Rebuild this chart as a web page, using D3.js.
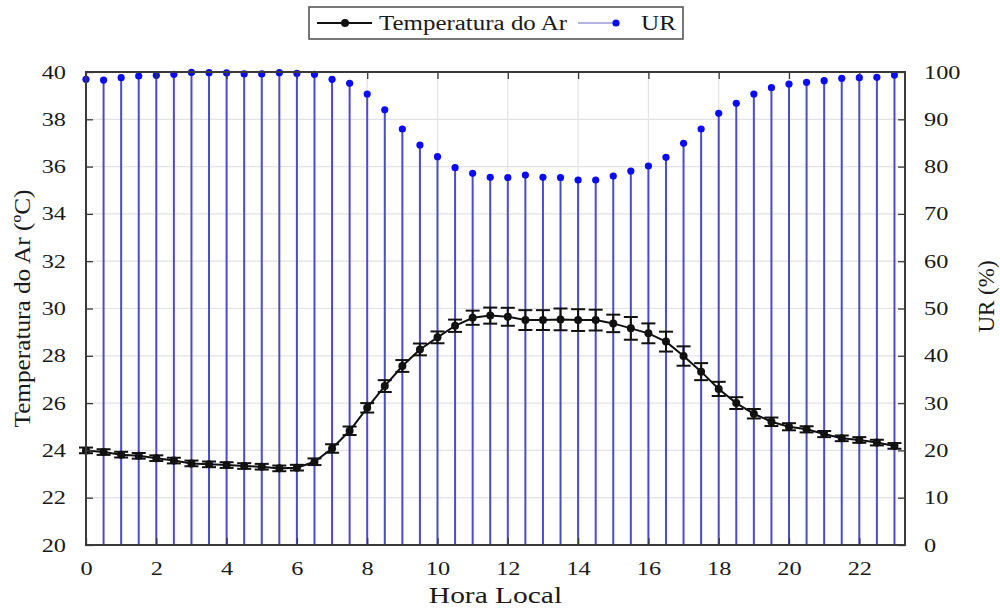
<!DOCTYPE html>
<html>
<head>
<meta charset="utf-8">
<script src="https://cdn.jsdelivr.net/npm/d3@7"></script>
<style>
  body { margin: 0; background: #fff; }
  svg { display: block; }
  text { font-family: "Liberation Serif", "Times New Roman", serif; fill: #1a1a1a; }
</style>
</head>
<body>
<svg id="chart" width="1000" height="610"></svg>
<script>
// Half-hourly local time (h)
const hours = [0,0.5,1,1.5,2,2.5,3,3.5,4,4.5,5,5.5,6,6.5,7,7.5,8,8.5,9,9.5,10,10.5,11,11.5,
  12,12.5,13,13.5,14,14.5,15,15.5,16,16.5,17,17.5,18,18.5,19,19.5,20,20.5,21,21.5,22,22.5,23];
// Mean air temperature (°C)
const temperature = [24.0,23.93,23.82,23.77,23.67,23.57,23.45,23.41,23.38,23.34,23.31,23.24,23.27,23.52,
  24.08,24.83,25.8,26.72,27.57,28.27,28.78,29.27,29.61,29.70,29.65,29.51,29.51,29.54,29.51,29.51,
  29.37,29.16,28.95,28.6,27.99,27.33,26.6,26.0,25.55,25.21,25.0,24.89,24.69,24.51,24.44,24.33,24.19];
// Error bar half-length (°C)
const tempError = [0.12,0.12,0.12,0.12,0.12,0.12,0.12,0.12,0.12,0.12,0.12,0.12,0.12,0.14,
  0.18,0.18,0.2,0.25,0.25,0.25,0.25,0.26,0.3,0.34,0.38,0.42,0.42,0.46,0.46,0.44,
  0.37,0.48,0.42,0.42,0.41,0.36,0.3,0.25,0.2,0.18,0.15,0.13,0.13,0.12,0.12,0.12,0.12];
// Relative humidity (%)
const humidity = [98.45,98.3,98.8,99.15,99.3,99.5,99.9,99.85,99.8,99.6,99.6,99.85,99.7,99.5,
  98.45,97.6,95.35,92.0,87.95,84.57,82.1,79.77,78.58,77.74,77.7,78.2,77.74,77.7,77.17,77.17,
  78.0,79.07,80.13,81.96,84.92,87.95,91.26,93.38,95.35,96.68,97.46,97.82,98.17,98.66,98.8,98.87,99.36];

const xTicks = [0,2,4,6,8,10,12,14,16,18,20,22];
const tempTicks = [20,22,24,26,28,30,32,34,36,38,40];
const humTicks = [0,10,20,30,40,50,60,70,80,90,100];

const svg = d3.select("#chart");
const plotL = 86, plotR = 905, plotT = 72, plotB = 545;

const x = d3.scaleLinear().domain([0, 23.3]).range([plotL, plotR]);
const yT = d3.scaleLinear().domain([20, 40]).range([plotB, plotT]);
const yH = d3.scaleLinear().domain([0, 100]).range([plotB, plotT]);

// stretch glyphs horizontally for the wide lettering
function widen(sel, f) {
  sel.each(function() {
    const w = this.getComputedTextLength();
    d3.select(this).attr("textLength", w * f).attr("lengthAdjust", "spacingAndGlyphs");
  });
}

// grid
const grid = svg.append("g").attr("stroke", "#e3e3e3").attr("stroke-width", 1.2);
grid.selectAll("line.h").data(tempTicks.slice(1, -1)).join("line").attr("class", "h")
  .attr("x1", plotL).attr("x2", plotR).attr("y1", d => yT(d)).attr("y2", d => yT(d));
grid.selectAll("line.v").data(xTicks.slice(1)).join("line").attr("class", "v")
  .attr("y1", plotT).attr("y2", plotB).attr("x1", d => x(d)).attr("x2", d => x(d));

// humidity stems
svg.append("g").selectAll("line").data(hours).join("line")
  .attr("x1", d => x(d)).attr("x2", d => x(d))
  .attr("y1", yH(0)).attr("y2", (d, i) => yH(humidity[i]))
  .attr("stroke", "#4b4bcc").attr("stroke-width", 2);
svg.append("g").selectAll("circle").data(hours).join("circle")
  .attr("cx", d => x(d)).attr("cy", (d, i) => yH(humidity[i]))
  .attr("r", 3.6).attr("fill", "#0a0aff");

// temperature line
const line = d3.line().x(d => x(d)).y((d, i) => yT(temperature[i]));
svg.append("path").datum(hours).attr("d", line)
  .attr("fill", "none").attr("stroke", "#111").attr("stroke-width", 2);

// error bars
const eb = svg.append("g").attr("stroke", "#111").attr("stroke-width", 2);
const cap = 7;
hours.forEach((h, i) => {
  const cx = x(h), lo = yT(temperature[i] - tempError[i]), hi = yT(temperature[i] + tempError[i]);
  eb.append("line").attr("x1", cx).attr("x2", cx).attr("y1", lo).attr("y2", hi);
  eb.append("line").attr("x1", cx - cap).attr("x2", cx + cap).attr("y1", lo).attr("y2", lo);
  eb.append("line").attr("x1", cx - cap).attr("x2", cx + cap).attr("y1", hi).attr("y2", hi);
});
svg.append("g").selectAll("circle").data(hours).join("circle")
  .attr("cx", d => x(d)).attr("cy", (d, i) => yT(temperature[i]))
  .attr("r", 4).attr("fill", "#111");

// axes (ticks pointing inward)
const axisColor = "#3a3a3a";
function styleAxis(g) {
  g.select(".domain").remove();
  g.selectAll(".tick line").attr("stroke", axisColor).attr("stroke-width", 1.3);
  g.selectAll(".tick text").attr("font-size", 19).attr("fill", "#1a1a1a")
    .attr("font-family", '"Liberation Serif", serif');
}
const gx = svg.append("g").attr("transform", `translate(0,${plotB})`)
  .call(d3.axisBottom(x).tickValues(xTicks).tickSize(-7).tickPadding(17).tickFormat(d3.format("d")));
styleAxis(gx);
const gxTop = svg.append("g").attr("transform", `translate(0,${plotT})`)
  .call(d3.axisTop(x).tickValues(xTicks).tickSize(-7).tickFormat(""));
styleAxis(gxTop);
const gl = svg.append("g").attr("transform", `translate(${plotL},0)`)
  .call(d3.axisLeft(yT).tickValues(tempTicks).tickSize(-7).tickPadding(20).tickFormat(d3.format("d")));
styleAxis(gl);
const gr = svg.append("g").attr("transform", `translate(${plotR},0)`)
  .call(d3.axisRight(yH).tickValues(humTicks).tickSize(-7).tickPadding(19).tickFormat(d3.format("d")));
styleAxis(gr);
[gx, gl, gr].forEach(g => widen(g.selectAll(".tick text"), 1.28));

// frame
svg.append("rect").attr("x", plotL).attr("y", plotT).attr("width", plotR - plotL).attr("height", plotB - plotT)
  .attr("fill", "none").attr("stroke", axisColor).attr("stroke-width", 2);

// axis titles
const xt = svg.append("text").attr("x", (plotL + plotR) / 2).attr("y", 603)
  .attr("text-anchor", "middle").attr("font-size", 23).text("Hora Local");
widen(xt, 1.28);
svg.append("text").attr("transform", `translate(30,${(plotT + plotB) / 2}) rotate(-90)`)
  .attr("text-anchor", "middle").attr("font-size", 23).attr("textLength", 238)
  .attr("lengthAdjust", "spacingAndGlyphs").text("Temperatura do Ar (ºC)");
svg.append("text").attr("transform", `translate(994,${(plotT + plotB) / 2 - 12}) rotate(-90)`)
  .attr("text-anchor", "middle").attr("font-size", 23).text("UR (%)");

// legend
const lg = svg.append("g");
lg.append("rect").attr("x", 309).attr("y", 7).attr("width", 374).attr("height", 32)
  .attr("fill", "#fff").attr("stroke", "#555").attr("stroke-width", 1.6);
lg.append("line").attr("x1", 317).attr("x2", 372).attr("y1", 23).attr("y2", 23)
  .attr("stroke", "#111").attr("stroke-width", 2);
lg.append("circle").attr("cx", 345).attr("cy", 23).attr("r", 4).attr("fill", "#111");
lg.append("text").attr("x", 379).attr("y", 30).attr("font-size", 20)
  .attr("textLength", 188).attr("lengthAdjust", "spacingAndGlyphs").text("Temperatura do Ar");
lg.append("line").attr("x1", 578).attr("x2", 616).attr("y1", 23).attr("y2", 23)
  .attr("stroke", "#9a9ade").attr("stroke-width", 1.5);
lg.append("circle").attr("cx", 616).attr("cy", 23).attr("r", 3.6).attr("fill", "#0a0aff");
lg.append("text").attr("x", 641).attr("y", 30).attr("font-size", 20)
  .attr("textLength", 35).attr("lengthAdjust", "spacingAndGlyphs").text("UR");
</script>
</body>
</html>
